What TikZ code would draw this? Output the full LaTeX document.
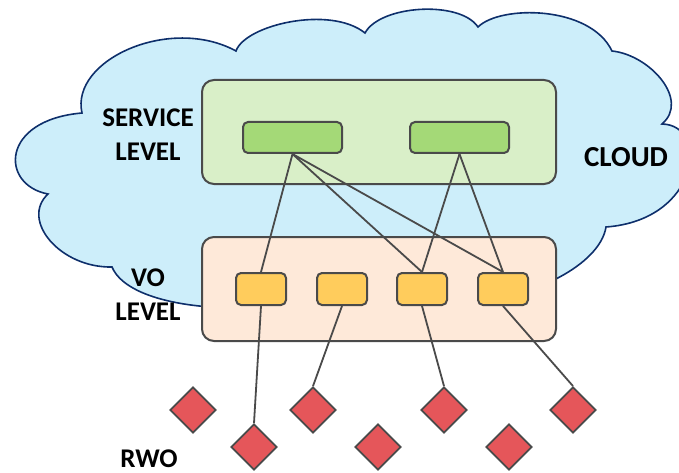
\documentclass[tikz,border=0pt]{standalone}
\usepackage{fontspec}
\setmainfont{Carlito}
\usetikzlibrary{shapes.geometric}

\definecolor{cloudfill}{HTML}{CDEEFA}
\definecolor{cloudline}{HTML}{0E2F6B}
\definecolor{svcfill}{HTML}{D9EFC8}
\definecolor{svcnode}{HTML}{A4D977}
\definecolor{vofill}{HTML}{FEE9D9}
\definecolor{vonode}{HTML}{FFCC5C}
\definecolor{rwofill}{HTML}{E5565A}
\definecolor{edge}{HTML}{4A4A4A}

\tikzset{
  levelbox/.style={draw=edge, line width=2pt, rounded corners=12pt,
    minimum width=354pt, minimum height=104pt, inner sep=0pt},
  svcbox/.style={draw=edge, line width=2pt, fill=svcnode, rounded corners=5pt,
    minimum width=99pt, minimum height=31pt, inner sep=0pt},
  vobox/.style={draw=edge, line width=2pt, fill=vonode, rounded corners=5pt,
    minimum width=50pt, minimum height=32pt, inner sep=0pt},
  rwobox/.style={draw=edge, line width=1.8pt, fill=rwofill, diamond, aspect=1,
    minimum width=46pt, minimum height=46pt, inner sep=0pt},
  lbl/.style={font=\fontsize{27}{34}\selectfont\bfseries, align=center, inner sep=1pt},
  link/.style={draw=edge, line width=1.8pt}
}

\begin{document}
\begin{tikzpicture}[x=1pt, y=-1pt]

    \useasboundingbox (0,0) rectangle (679,473);

    % Cloud
    \draw[fill=cloudfill, draw=cloudline, line width=1.6pt]
      (82,113) .. controls (70,60) and (170,15) .. (236,51)
      .. controls (245,25) and (330,5) .. (365,33)
      .. controls (380,5) and (460,0) .. (478,27)
      .. controls (500,5) and (590,5) .. (612,51)
      .. controls (650,55) and (690,100) .. (662,124)
      .. controls (710,125) and (700,220) .. (606,227)
      .. controls (600,265) and (530,300) .. (470,300)
      .. controls (430,330) and (330,330) .. (290,300)
      .. controls (250,315) and (130,310) .. (112,267)
      .. controls (60,268) and (20,220) .. (48,194)
      .. controls (0,185) and (0,120) .. cycle;

    % Levels
    \node[levelbox, fill=svcfill] (svc) at (379,132) {};
    \node[levelbox, fill=vofill] (vo) at (379,289) {};

    % Service nodes
    \node[svcbox] (s1) at (292.5,137.5) {};
    \node[svcbox] (s2) at (459.5,137.5) {};

    % VO nodes
    \foreach \i/\x in {1/261,2/342,3/422,4/503}
        \node[vobox] (v\i) at (\x,289) {};

    % RWO diamonds
    \foreach \i/\x/\y in {1/193/410,2/254/447,3/313/410,4/378/447,5/444/410,6/509/447,7/573/410}
        \node[rwobox] (r\i) at (\x,\y) {};

    % Links service -> VO
    \draw[link] (s1.south) -- (v1.north);
    \draw[link] (s1.south) -- (v3.north);
    \draw[link] (s1.south) -- (v4.north);
    \draw[link] (s2.south) -- (v3.north);
    \draw[link] (s2.south) -- (v4.north);

    % Links VO -> RWO
    \draw[link] (v1.south) -- (r2.north);
    \draw[link] (v2.south) -- (r3.north);
    \draw[link] (v3.south) -- (r5.north);
    \draw[link] (v4.south) -- (r7.north);

    % Labels
    \node[lbl] (lblsvc) at (148,135) {SERVICE\\LEVEL};
    \node[lbl] (lblvo) at (148,295) {VO\\LEVEL};
    \node[lbl] (lblrwo) at (149,459) {RWO};
    \node[lbl, font=\fontsize{29}{34}\selectfont\bfseries] (lblcloud) at (626,157) {CLOUD};

\end{tikzpicture}
\end{document}
